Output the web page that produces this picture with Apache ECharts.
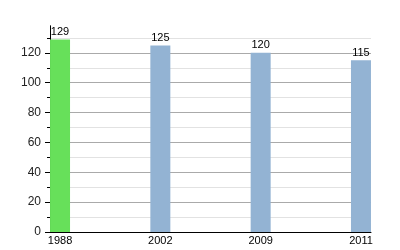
<!DOCTYPE html>
<html>
<head>
<meta charset="utf-8">
<script src="https://cdn.jsdelivr.net/npm/echarts@6/dist/echarts.min.js"></script>
<style>html,body{margin:0;padding:0;background:#fff;}#c{width:400px;height:250px;}</style>
</head>
<body>
<div id="c"></div>
<script>
var categories = ['1988', '2002', '2009', '2011'];
var values = [129, 125, 120, 115];
var barColors = ['#67e05a', '#93b3d3', '#93b3d3', '#93b3d3'];
var majorTicks = [0, 20, 40, 60, 80, 100, 120];
var minorTicks = [10, 30, 50, 70, 90, 110, 130];

var chart = echarts.init(document.getElementById('c'), null, {renderer: 'canvas'});
var data = values.map(function (v, i) {
  return {value: [i, v], itemStyle: {color: barColors[i]}};
});
var font = 'Liberation Sans, Arial, sans-serif';
chart.setOption({
  animation: false,
  grid: {left: 50, right: 29, top: 26, bottom: 18, containLabel: false},
  xAxis: {
    type: 'value', min: -0.1, max: 3.1,
    axisLine: {show: true, onZero: false, lineStyle: {color: '#000', width: 1}},
    axisTick: {show: false},
    splitLine: {show: false},
    axisLabel: {
      customValues: [0, 1, 2, 3],
      formatter: function (v) { return categories[Math.round(v)]; },
      color: '#000', fontSize: 11, fontFamily: font, margin: 3
    }
  },
  yAxis: [{
    type: 'value', min: 0, max: 138, position: 'left',
    axisLine: {show: true, onZero: false, lineStyle: {color: '#000', width: 1}},
    axisTick: {show: true, customValues: minorTicks, length: 3, lineStyle: {color: '#000'}},
    axisLabel: {show: false},
    splitLine: {show: true, lineStyle: {color: '#e2e2e2', width: 1}}
  }, {
    type: 'value', min: 0, max: 138, position: 'left', offset: 0,
    axisLine: {show: true, onZero: false, lineStyle: {color: '#000', width: 1}},
    axisTick: {show: true, customValues: majorTicks, length: 5, lineStyle: {color: '#000'}},
    axisLabel: {customValues: majorTicks, color: '#222', fontSize: 12, fontFamily: font, margin: 9},
    splitLine: {show: true, lineStyle: {color: '#aaaaaa', width: 1}}
  }],
  series: [{
    type: 'bar', xAxisIndex: 0, yAxisIndex: 0,
    barWidth: 20,
    data: data,
    label: {show: true, position: 'top', distance: 2, color: '#000', fontSize: 11, fontFamily: font,
      formatter: function (p) { return p.value[1]; }},
    z: 3
  }]
});
</script>
</body>
</html>
